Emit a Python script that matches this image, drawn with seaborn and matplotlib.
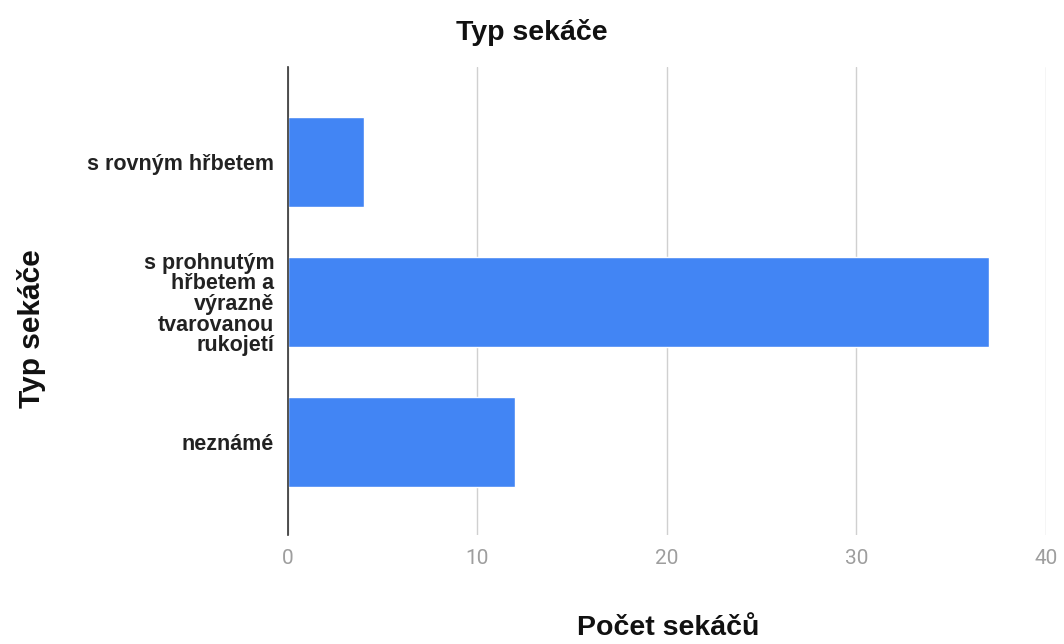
import matplotlib
matplotlib.use("Agg")
import matplotlib.pyplot as plt
import seaborn as sns
import pandas as pd

categories = ["s rovným hřbetem",
              "s prohnutým\nhřbetem a\nvýrazně\ntvarovanou\nrukojetí",
              "neznámé"]
values = [4, 37, 12]
x_ticks = [0, 10, 20, 30, 40]

sns.set_theme(style="white")
plt.rcParams['font.family'] = ['Liberation Sans', 'DejaVu Sans']

df = pd.DataFrame({"cat": categories, "val": values})

fig = plt.figure(figsize=(10.64, 6.44), dpi=100)
ax = fig.add_axes([0.2707, 0.169, 0.983 - 0.2707, 0.896 - 0.169])

sns.barplot(data=df, y="cat", x="val", orient="h", color="#4285F4",
            saturation=1, width=0.64, ax=ax, zorder=3)

ax.set_xlim(0, 40)
ax.set_ylim(2.665, -0.68)
ax.set_xticks(x_ticks)
ax.set_xticklabels([str(t) for t in x_ticks], fontfamily="Roboto",
                   color="#9e9e9e", fontsize=15)
ax.tick_params(axis="x", length=0, pad=10)
ax.tick_params(axis="y", length=0, pad=10)
for lbl in ax.get_yticklabels():
    lbl.set_fontweight("bold")
    lbl.set_fontsize(15.5)
    lbl.set_color("#222222")
    lbl.set_linespacing(0.98)

ax.xaxis.grid(True, color="#d0d0d0", linewidth=1, zorder=0)
ax.yaxis.grid(False)
for s in ["top", "right", "bottom"]:
    ax.spines[s].set_visible(False)
ax.spines["left"].set_color("#333333")
ax.spines["left"].set_linewidth(1.2)
ax.spines["left"].set_zorder(5)

ax.set_xlabel("")
ax.set_ylabel("")
fig.text(0.5, 0.95, "Typ sekáče", ha="center", va="center",
         fontsize=20.5, fontweight="bold", color="#111111")
fig.text(0.628, 0.025, "Počet sekáčů", ha="center", va="center",
         fontsize=20.5, fontweight="bold", color="#111111")
fig.text(0.03, 0.49, "Typ sekáče", ha="center", va="center", rotation=90,
         fontsize=21.5, fontweight="bold", color="#111111")

fig.savefig("out.png", dpi=100)
